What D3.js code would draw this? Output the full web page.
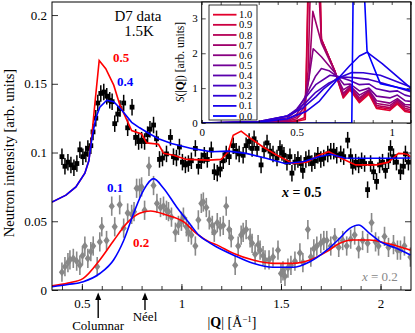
<!DOCTYPE html>
<html>
<head>
<meta charset="utf-8">
<script src="https://cdn.jsdelivr.net/npm/d3@7"></script>
<style>
body { margin: 0; background: #fff; }
svg { display: block; font-family: "Liberation Serif", "DejaVu Serif", serif; }
</style>
</head>
<body>
<svg id="chart" width="415" height="333"></svg>
<script>

// x = 0.5 data (black squares), [ |Q|, intensity ]
const dataX05 = [
  [0.400,0.097],[0.415,0.090],[0.430,0.093],[0.445,0.091],[0.460,0.089],[0.475,0.092],
  [0.490,0.102],[0.505,0.097],[0.520,0.099],[0.530,0.103],[0.545,0.105],[0.556,0.115],
  [0.570,0.125],[0.580,0.136],[0.595,0.143],[0.610,0.144],[0.625,0.141],[0.640,0.138],
  [0.652,0.137],[0.665,0.121],[0.680,0.128],[0.692,0.132],[0.710,0.136],[0.730,0.118],
  [0.752,0.133],[0.770,0.111],[0.785,0.108],[0.800,0.109],[0.815,0.108],[0.830,0.113],
  [0.842,0.117],[0.860,0.120],[0.875,0.110],[0.890,0.095],[0.905,0.096],[0.925,0.099],
  [0.945,0.111],[0.960,0.097],[0.975,0.096],[0.990,0.104],[1.005,0.093],[1.020,0.091],
  [1.035,0.092],[1.050,0.094],[1.070,0.103],[1.085,0.090],[1.100,0.094],[1.115,0.098],
  [1.130,0.095],[1.150,0.102],[1.165,0.086],[1.180,0.085],[1.195,0.088],[1.210,0.094],
  [1.225,0.099],[1.240,0.097],[1.260,0.105],[1.275,0.101],[1.290,0.099],[1.310,0.098],
  [1.325,0.105],[1.340,0.108],[1.355,0.103],[1.365,0.110],[1.380,0.103],[1.400,0.091],
  [1.415,0.102],[1.430,0.107],[1.445,0.101],[1.460,0.099],[1.480,0.096],[1.495,0.103],
  [1.505,0.100],[1.515,0.098],[1.530,0.093],[1.545,0.097],[1.555,0.085],[1.570,0.093],
  [1.585,0.095],[1.600,0.092],[1.610,0.087],[1.625,0.095],[1.640,0.096],[1.655,0.092],
  [1.670,0.094],[1.685,0.098],[1.700,0.095],[1.715,0.096],[1.735,0.099],[1.750,0.101],
  [1.765,0.101],[1.780,0.098],[1.800,0.099],[1.815,0.097],[1.835,0.109],[1.850,0.097],
  [1.860,0.090],[1.875,0.093],[1.890,0.091],[1.905,0.094],[1.920,0.092],[1.935,0.073],
  [1.950,0.092],[1.965,0.086],[1.980,0.079],[1.995,0.091],[2.010,0.093],[2.025,0.087],
  [2.040,0.094],[2.050,0.103],[2.065,0.097],[2.080,0.093],[2.100,0.086],[2.115,0.090],
  [2.125,0.099],[2.140,0.093]
];

// x = 0.2 data (grey diamonds)
const dataX02 = [
  [0.400,0.013],[0.415,0.017],[0.430,0.020],[0.440,0.022],[0.457,0.023],[0.474,0.021],
  [0.490,0.018],[0.503,0.025],[0.515,0.032],[0.530,0.023],[0.545,0.028],[0.557,0.032],
  [0.577,0.017],[0.590,0.035],[0.600,0.046],[0.624,0.036],[0.650,0.061],[0.665,0.046],
  [0.690,0.062],[0.710,0.045],[0.730,0.056],[0.750,0.055],[0.762,0.057],[0.775,0.074],
  [0.790,0.074],[0.800,0.075],[0.815,0.058],[0.837,0.090],[0.860,0.076],[0.877,0.063],
  [0.895,0.060],[0.910,0.061],[0.925,0.058],[0.935,0.057],[0.950,0.053],[0.970,0.042],
  [0.985,0.047],[1.000,0.050],[1.010,0.053],[1.025,0.046],[1.035,0.042],[1.050,0.040],
  [1.070,0.032],[1.085,0.051],[1.100,0.063],[1.110,0.064],[1.125,0.060],[1.140,0.051],
  [1.155,0.047],[1.165,0.042],[1.180,0.049],[1.195,0.046],[1.210,0.047],[1.225,0.061],
  [1.240,0.044],[1.250,0.038],[1.270,0.018],[1.285,0.032],[1.300,0.040],[1.310,0.042],
  [1.325,0.044],[1.345,0.038],[1.355,0.034],[1.370,0.026],[1.385,0.033],[1.395,0.029],
  [1.410,0.025],[1.420,0.022],[1.440,0.022],[1.460,0.024],[1.485,0.029],[1.500,0.012],
  [1.510,0.014],[1.520,0.010],[1.535,0.016],[1.550,0.018],[1.570,0.021],[1.595,0.027],
  [1.610,0.020],[1.635,0.044],[1.650,0.024],[1.665,0.030],[1.680,0.032],[1.700,0.034],
  [1.715,0.036],[1.730,0.036],[1.750,0.032],[1.770,0.038],[1.790,0.031],[1.810,0.036],
  [1.830,0.032],[1.850,0.037],[1.870,0.040],[1.890,0.030],[1.910,0.036],[1.935,0.034],
  [1.955,0.049],[1.975,0.035],[1.990,0.032],[2.020,0.039],[2.040,0.031],[2.065,0.033],
  [2.085,0.029],[2.100,0.029],[2.120,0.032],[2.150,0.024]
];

const errX05 = 0.006;
const errX02 = 0.007;

// model curves on the main panel
const fitUpperRed = [
  [0.35,0.064],[0.42,0.069],[0.47,0.075],[0.515,0.085],[0.535,0.094],[0.55,0.112],
  [0.565,0.135],[0.587,0.167],[0.62,0.161],[0.66,0.149],[0.69,0.135],[0.75,0.116],
  [0.80,0.1135],[0.825,0.107],[0.885,0.106],[0.91,0.0995],[0.96,0.098],[1.025,0.095],
  [1.14,0.0945],[1.2,0.095],[1.235,0.1005],[1.26,0.1125],[1.30,0.1156],[1.35,0.110],
  [1.41,0.104],[1.48,0.098],[1.56,0.092],[1.63,0.093],[1.69,0.098],[1.74,0.1006],
  [1.80,0.096],[1.875,0.091],[1.98,0.091],[2.04,0.093],[2.09,0.0994],[2.13,0.099],[2.15,0.097]
];
const fitUpperBlue = [
  [0.35,0.064],[0.42,0.069],[0.47,0.075],[0.515,0.085],[0.535,0.094],[0.55,0.110],
  [0.57,0.125],[0.59,0.133],[0.625,0.138],[0.66,0.137],[0.70,0.131],[0.75,0.122],
  [0.79,0.118],[0.835,0.114],[0.885,0.110],[0.95,0.1065],[1.05,0.103],[1.15,0.1006],
  [1.235,0.101],[1.325,0.0994],[1.425,0.0958],[1.52,0.092],[1.61,0.0933],[1.69,0.097],
  [1.75,0.0987],[1.82,0.096],[1.90,0.0958],[2.02,0.0958],[2.15,0.096]
];
const fitLowerBlue = [
  [0.35,0.0024],[0.43,0.004],[0.507,0.006],[0.59,0.012],[0.66,0.022],[0.71,0.036],
  [0.76,0.0558],[0.81,0.0727],[0.86,0.081],[0.91,0.074],[0.975,0.0606],[1.04,0.0485],
  [1.09,0.0395],[1.14,0.0345],[1.175,0.0315],[1.26,0.0255],[1.36,0.0194],[1.46,0.0165],
  [1.56,0.0165],[1.645,0.0206],[1.73,0.029],[1.795,0.0376],[1.845,0.0448],[1.89,0.0473],
  [1.945,0.0412],[2.0,0.035],[2.08,0.0303],[2.15,0.0255]
];
const fitLowerRed = [
  [0.35,0.003],[0.43,0.005],[0.507,0.0085],[0.59,0.0218],[0.66,0.036],[0.725,0.0485],
  [0.79,0.0558],[0.845,0.0575],[0.925,0.0545],[1.01,0.0497],[1.076,0.041],[1.14,0.035],
  [1.175,0.033],[1.26,0.0267],[1.36,0.0218],[1.46,0.0194],[1.56,0.0194],[1.645,0.0218],
  [1.73,0.0279],[1.795,0.034],[1.86,0.0364],[1.945,0.0364],[2.03,0.034],[2.095,0.0315],
  [2.15,0.029]
];

// inset: S(|Q|) for each x
const insetLevels = [1.0, 0.9, 0.8, 0.7, 0.6, 0.5, 0.4, 0.3, 0.2, 0.1, 0.0];
const sq10 = [[0,0],[0.3,0],[0.45,0.02],[0.5,0.05],[0.545,0.1],[0.55,1.4],[0.575,8],[0.605,8],[0.63,2.4],[0.7,1.5],[0.745,0.72],[0.78,0.95],[0.83,0.58],[0.88,0.83],[0.92,0.42],[0.99,0.36],[1.03,0.55],[1.07,0.33],[1.1,0.3]];
const sq09 = [[0,0],[0.3,0],[0.45,0.03],[0.5,0.07],[0.54,0.15],[0.55,1.2],[0.575,7],[0.605,7],[0.63,2.4],[0.7,1.5],[0.745,0.75],[0.78,0.98],[0.83,0.62],[0.88,0.86],[0.92,0.46],[0.99,0.4],[1.03,0.58],[1.07,0.37],[1.1,0.33]];
const sq08 = [[0,0],[0.3,0.01],[0.45,0.05],[0.5,0.12],[0.54,0.35],[0.56,1.5],[0.58,5.5],[0.6,5.5],[0.63,2.4],[0.7,1.5],[0.745,0.79],[0.78,1.01],[0.83,0.67],[0.88,0.9],[0.92,0.5],[0.99,0.44],[1.03,0.62],[1.07,0.42],[1.1,0.38]];
const sq07 = [[0,0],[0.3,0.01],[0.45,0.07],[0.5,0.18],[0.54,0.45],[0.565,1.3],[0.585,3.2],[0.63,2.3],[0.7,1.48],[0.745,0.85],[0.78,1.04],[0.83,0.72],[0.88,0.93],[0.92,0.56],[0.99,0.5],[1.03,0.66],[1.07,0.48],[1.1,0.44]];
const sq06 = [[0,0],[0.3,0.02],[0.45,0.1],[0.5,0.25],[0.54,0.6],[0.565,1.3],[0.587,2.13],[0.63,1.9],[0.7,1.45],[0.745,0.95],[0.78,1.07],[0.83,0.8],[0.88,0.95],[0.92,0.64],[0.99,0.57],[1.03,0.7],[1.07,0.53],[1.1,0.52]];
const sq05 = [[0,0],[0.3,0.03],[0.45,0.15],[0.5,0.35],[0.55,0.8],[0.6,1.35],[0.63,1.56],[0.67,1.5],[0.72,1.3],[0.75,1.1],[0.78,1.12],[0.83,0.92],[0.88,1.0],[0.92,0.77],[0.99,0.72],[1.03,0.8],[1.07,0.64],[1.1,0.62]];
const sq04 = [[0,0],[0.3,0.04],[0.45,0.2],[0.5,0.4],[0.55,0.75],[0.6,1.1],[0.675,1.37],[0.72,1.33],[0.78,1.22],[0.83,1.1],[0.88,1.12],[0.92,0.98],[0.99,0.9],[1.03,0.92],[1.07,0.8],[1.1,0.76]];
const sq03 = [[0,0],[0.3,0.04],[0.45,0.2],[0.5,0.36],[0.55,0.6],[0.6,0.88],[0.67,1.15],[0.74,1.32],[0.8,1.3],[0.88,1.25],[0.95,1.15],[1.03,1.02],[1.1,0.9]];
const sq02 = [[0,0],[0.3,0.03],[0.45,0.2],[0.53,0.42],[0.6,0.75],[0.64,0.97],[0.71,1.27],[0.79,1.45],[0.85,1.44],[0.94,1.37],[1.1,1.03]];
const sq01 = [[0,0],[0.3,0.02],[0.45,0.12],[0.55,0.33],[0.62,0.63],[0.675,1.0],[0.73,1.35],[0.78,1.65],[0.83,1.92],[0.87,2.03],[0.95,1.7],[1.1,1.0]];
const sq00 = [[0,0],[0.79,0],[0.805,8],[0.82,8],[0.87,2.08],[0.94,1.13],[1.1,0.94]];
const insetCurves = [sq10, sq09, sq08, sq07, sq06, sq05, sq04, sq03, sq02, sq01, sq00];

const mainYTicks = [0, 0.05, 0.1, 0.15, 0.2];
const mainXTicks = [0.5, 1, 1.5, 2];
const insetYTicks = [0, 1, 2, 3];
const insetXTicks = [0, 0.5, 1];

const RED = '#ff0000';
const BLUE = '#0000ff';
const GREY = '#888888';

const serif = '"Liberation Serif", "DejaVu Serif", serif';

const svg = d3.select('#chart');

// main panel
const plot = { left: 52, top: 2, right: 411, bottom: 290 };

const x = d3.scaleLinear().domain([0.35, 2.153]).range([plot.left, plot.right]);
const y = d3.scaleLinear().domain([0, 0.2095]).range([plot.bottom, plot.top]);

const mainG = svg.append('g');

mainG.append('clipPath').attr('id', 'clip-main')
  .append('rect')
  .attr('x', plot.left).attr('y', plot.top)
  .attr('width', plot.right - plot.left).attr('height', plot.bottom - plot.top);

const body = mainG.append('g').attr('clip-path', 'url(#clip-main)');

const line = d3.line().x(d => x(d[0])).y(d => y(d[1]));
const smooth = d3.line().x(d => x(d[0])).y(d => y(d[1])).curve(d3.curveMonotoneX);

// grey x = 0.2 points
const greyPts = body.append('g');
greyPts.selectAll('line')
  .data(dataX02).join('line')
  .attr('x1', d => x(d[0])).attr('x2', d => x(d[0]))
  .attr('y1', d => y(d[1] - errX02)).attr('y2', d => y(d[1] + errX02))
  .attr('stroke', GREY).attr('stroke-width', 1.6);
greyPts.selectAll('path')
  .data(dataX02).join('path')
  .attr('d', 'M0,-4.2L3.1,0L0,4.2L-3.1,0Z')
  .attr('transform', d => `translate(${x(d[0])},${y(d[1])})`)
  .attr('fill', GREY);

// model curves, lower set
body.append('path').datum(fitLowerRed).attr('d', smooth)
  .attr('fill', 'none').attr('stroke', RED).attr('stroke-width', 1.6);
body.append('path').datum(fitLowerBlue).attr('d', smooth)
  .attr('fill', 'none').attr('stroke', BLUE).attr('stroke-width', 1.6);

// black x = 0.5 points
const blackPts = body.append('g');
blackPts.selectAll('line')
  .data(dataX05).join('line')
  .attr('x1', d => x(d[0])).attr('x2', d => x(d[0]))
  .attr('y1', d => y(d[1] - errX05)).attr('y2', d => y(d[1] + errX05))
  .attr('stroke', '#000').attr('stroke-width', 1.5);
blackPts.selectAll('rect')
  .data(dataX05).join('rect')
  .attr('x', d => x(d[0]) - 2.4).attr('y', d => y(d[1]) - 2.4)
  .attr('width', 4.8).attr('height', 4.8)
  .attr('fill', '#000');

// model curves, upper set
body.append('path').datum(fitUpperRed).attr('d', line)
  .attr('fill', 'none').attr('stroke', RED).attr('stroke-width', 1.6);
body.append('path').datum(fitUpperBlue).attr('d', line)
  .attr('fill', 'none').attr('stroke', BLUE).attr('stroke-width', 1.6);

// axes of main panel
const axisStyle = g => {
  g.attr('font-family', serif);
  g.select('.domain').remove();
  g.selectAll('line').attr('stroke', '#000').attr('stroke-width', 0.8);
  g.selectAll('text').attr('font-family', serif)
    .attr('font-size', 13).attr('fill', '#000');
};

mainG.append('g')
  .attr('transform', `translate(${plot.left},0)`)
  .call(d3.axisLeft(y).tickValues(mainYTicks).tickSize(-6).tickPadding(5)
    .tickFormat(d => d === 0 ? '0' : d3.format('~g')(d)))
  .call(axisStyle);

mainG.append('g')
  .attr('transform', `translate(${plot.right},0)`)
  .call(d3.axisRight(y).tickValues(mainYTicks).tickSize(-6).tickFormat(''))
  .call(axisStyle);

mainG.append('g')
  .attr('transform', `translate(0,${plot.bottom})`)
  .call(d3.axisBottom(x).tickValues(d3.range(0.4, 2.16, 0.1)).tickSize(-4).tickFormat(''))
  .call(axisStyle);

mainG.append('g')
  .attr('transform', `translate(0,${plot.bottom})`)
  .call(d3.axisBottom(x).tickValues(mainXTicks).tickSize(-6).tickPadding(9)
    .tickFormat(d3.format('~g')))
  .call(axisStyle);

mainG.append('rect')
  .attr('x', plot.left).attr('y', plot.top)
  .attr('width', plot.right - plot.left).attr('height', plot.bottom - plot.top)
  .attr('fill', 'none').attr('stroke', '#000').attr('stroke-width', 1);

// labels on the main panel
const txt = (px, py, s, opts = {}) => svg.append('text')
  .attr('x', px).attr('y', py)
  .attr('font-family', serif)
  .attr('font-size', opts.size || 13)
  .attr('font-weight', opts.weight || 'normal')
  .attr('fill', opts.fill || '#000')
  .attr('text-anchor', opts.anchor || 'start')
  .text(s);

txt(138, 21, 'D7 data', { size: 15, anchor: 'middle' });
txt(139, 36, '1.5K', { size: 15, anchor: 'middle' });

txt(113, 62, '0.5', { weight: 'bold', fill: RED });
txt(117, 86, '0.4', { weight: 'bold', fill: BLUE });
txt(107, 192, '0.1', { weight: 'bold', fill: BLUE });
txt(133, 247, '0.2', { weight: 'bold', fill: RED });

const lbl05 = svg.append('text').attr('x', 282).attr('y', 197)
  .attr('font-family', serif).attr('font-size', 14).attr('font-weight', 'bold');
lbl05.append('tspan').attr('font-style', 'italic').text('x');
lbl05.append('tspan').text(' = 0.5');

const lbl02 = svg.append('text').attr('x', 362).attr('y', 281)
  .attr('font-family', serif).attr('font-size', 13).attr('fill', GREY);
lbl02.append('tspan').attr('font-style', 'italic').text('x');
lbl02.append('tspan').text(' = 0.2');

// y axis title
svg.append('text')
  .attr('transform', 'translate(14,153) rotate(-90)')
  .attr('text-anchor', 'middle')
  .attr('font-family', serif).attr('font-size', 14.5)
  .text('Neutron intensity [arb. units]');

// x axis title
const xt = svg.append('text').attr('x', 232).attr('y', 327)
  .attr('text-anchor', 'middle')
  .attr('font-family', serif).attr('font-size', 14);
xt.append('tspan').text('|');
xt.append('tspan').attr('font-weight', 'bold').text('Q');
xt.append('tspan').text('| [Å');
xt.append('tspan').attr('font-size', 9).attr('dy', -5).text('−1');
xt.append('tspan').attr('dy', 5).text(']');

// arrows for Columnar and Néel positions
const arrowMarks = [
  { q: 0.582, y2: 318, label: 'Columnar', ly: 330 },
  { q: 0.817, y2: 310, label: 'Néel', ly: 321 }
];
arrowMarks.forEach(a => {
  const ax = x(a.q);
  svg.append('line')
    .attr('x1', ax).attr('x2', ax).attr('y1', 298).attr('y2', a.y2)
    .attr('stroke', '#000').attr('stroke-width', 1.4);
  svg.append('path')
    .attr('d', `M${ax},292.5 L${ax - 3},300 L${ax + 3},300 Z`)
    .attr('fill', '#000');
  txt(ax, a.ly, a.label, { size: 13, anchor: 'middle' });
});

// inset
const ins = { left: 201.7, top: 2, right: 410.7, bottom: 123 };
const ix = d3.scaleLinear().domain([0, 1.1]).range([ins.left, ins.right]);
const iy = d3.scaleLinear().domain([0, 3.47]).range([ins.bottom, ins.top]);

const inset = svg.append('g');

inset.append('rect')
  .attr('x', ins.left).attr('y', ins.top)
  .attr('width', ins.right - ins.left).attr('height', ins.bottom - ins.top)
  .attr('fill', '#fff');

inset.append('clipPath').attr('id', 'clip-inset')
  .append('rect')
  .attr('x', ins.left).attr('y', ins.top)
  .attr('width', ins.right - ins.left).attr('height', ins.bottom - ins.top);

const levelColor = v => d3.interpolateRgb('#0000ff', '#e2002c')(v);

const iline = d3.line().x(d => ix(d[0])).y(d => iy(d[1]));

inset.append('g').attr('clip-path', 'url(#clip-inset)')
  .selectAll('path')
  .data(insetCurves).join('path')
  .attr('d', iline)
  .attr('fill', 'none')
  .attr('stroke', (d, i) => levelColor(insetLevels[i]))
  .attr('stroke-width', 1.6)
  .attr('stroke-linejoin', 'round');

const insetAxis = g => {
  g.attr('font-family', serif);
  g.select('.domain').remove();
  g.selectAll('line').attr('stroke', '#000').attr('stroke-width', 0.7);
  g.selectAll('text').attr('font-family', serif).attr('font-size', 11).attr('fill', '#000');
};

inset.append('g')
  .attr('transform', `translate(${ins.left},0)`)
  .call(d3.axisLeft(iy).tickValues(insetYTicks).tickSize(-4).tickPadding(4).tickFormat(d3.format('d')))
  .call(insetAxis);
inset.append('g')
  .attr('transform', `translate(${ins.right},0)`)
  .call(d3.axisRight(iy).tickValues(insetYTicks).tickSize(-4).tickFormat(''))
  .call(insetAxis);
inset.append('g')
  .attr('transform', `translate(0,${ins.bottom})`)
  .call(d3.axisBottom(ix).tickValues(d3.range(0, 1.11, 0.1)).tickSize(-3).tickFormat(''))
  .call(insetAxis);
inset.append('g')
  .attr('transform', `translate(0,${ins.bottom})`)
  .call(d3.axisBottom(ix).tickValues(insetXTicks).tickSize(-3).tickPadding(5).tickFormat(d3.format('~g')))
  .call(insetAxis);
inset.append('g')
  .attr('transform', `translate(0,${ins.top})`)
  .call(d3.axisTop(ix).tickValues(d3.range(0, 1.11, 0.1)).tickSize(-3).tickFormat(''))
  .call(insetAxis);

inset.append('rect')
  .attr('x', ins.left).attr('y', ins.top)
  .attr('width', ins.right - ins.left).attr('height', ins.bottom - ins.top)
  .attr('fill', 'none').attr('stroke', '#000').attr('stroke-width', 1);

// inset y title
const iyt = svg.append('text')
  .attr('transform', 'translate(184,62) rotate(-90)')
  .attr('text-anchor', 'middle')
  .attr('font-family', serif).attr('font-size', 11.5);
iyt.append('tspan').attr('font-style', 'italic').text('S');
iyt.append('tspan').text('(|');
iyt.append('tspan').attr('font-weight', 'bold').text('Q');
iyt.append('tspan').text('|) [arb. units]');

// inset legend
const leg = inset.append('g');
leg.append('rect')
  .attr('x', 209).attr('y', 5).attr('width', 48).attr('height', 115)
  .attr('fill', '#fff').attr('stroke', '#000').attr('stroke-width', 0.8);

const legY = d3.scaleLinear().domain([0, insetLevels.length - 1]).range([14.7, 116]);

leg.selectAll('line')
  .data(insetLevels).join('line')
  .attr('x1', 213).attr('x2', 236.5)
  .attr('y1', (d, i) => legY(i)).attr('y2', (d, i) => legY(i))
  .attr('stroke', d => levelColor(d)).attr('stroke-width', 1.8);

leg.selectAll('text')
  .data(insetLevels).join('text')
  .attr('x', 239).attr('y', (d, i) => legY(i) + 3.6)
  .attr('font-family', serif).attr('font-size', 10.5)
  .text(d => d3.format('.1f')(d));

</script>
</body>
</html>
